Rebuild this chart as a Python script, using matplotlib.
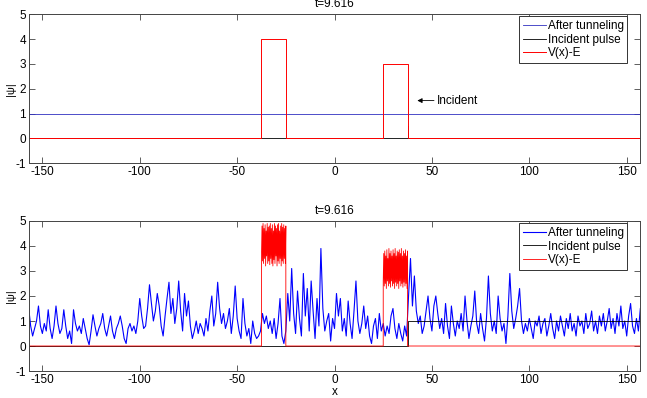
import numpy as np
import matplotlib
matplotlib.use("Agg")
import matplotlib.pyplot as plt

plt.rcParams['font.family'] = ['Liberation Sans', 'DejaVu Sans']
plt.rcParams['axes.unicode_minus'] = False

# --- data ---
title_text = "t=9.616"
x_lim = [-157, 157]
y_lim = [-1, 5]
x_ticks = [-150, -100, -50, 0, 50, 100, 150]
y_ticks = [-1, 0, 1, 2, 3, 4, 5]

# barrier positions and heights (V(x)-E)
barrier1 = [-37.5, -25.0]
barrier2 = [25.0, 37.5]
barrier_heights = [4, 3]

# upper panel: flat |psi| and incident marker
psi_flat = 1.0
incident_top_x = [-157, 37.5, 37.5, 37.9, 37.9, 157]
incident_top_y = [0, 0, 0.5, 0.5, 0, 0]

# lower panel: incident pulse
incident_bot_x = [-157, 37.5, 37.5, 157]
incident_bot_y = [0, 0, 1, 1]

# lower panel |psi| after tunneling, one value per unit of x from -157 to 157
psi_after = [
    1.5, 0.8, 0.4, 0.7, 1.0, 1.6, 0.8, 0.5,            # -157..-150
    0.9, 0.6, 1.45, 0.7, 0.3, 0.8, 1.6, 0.9, 0.5, 0.7,  # -149..-140
    1.45, 0.8, 0.3, 0.6, 0.1, 1.45, 0.9, 0.6, 0.8, 0.5,
    1.1, 0.7, 0.3, 0.05, 0.6, 1.25, 0.8, 0.4, 0.7, 0.9,
    1.3, 0.7, 0.4, 0.8, 1.2, 0.6, 0.3, 0.7, 0.9, 1.2,
    0.8, 0.3, 0.1, 0.7, 0.9, 0.6, 0.8, 0.5, 1.0, 1.9,
    1.2, 0.7, 0.8, 1.5, 2.45, 1.7, 1.0, 1.4, 2.1, 1.6,
    0.8, 0.4, 1.2, 1.9, 2.55, 1.3, 1.9, 0.9, 1.5, 2.6,
    1.4, 0.6, 2.1, 1.2, 1.8, 0.8, 0.3, 0.6, 1.0, 0.5,
    0.9, 0.7, 0.4, 1.1, 0.6, 1.4, 2.0, 0.8, 1.3, 2.55,
    1.5, 0.9, 1.3, 0.7, 1.0, 1.5, 0.5, 1.2, 2.4, 1.1,
    0.6, 0.3, 1.9, 0.9, 0.4, 0.7, 0.1, 1.0, 0.5, 0.3,
    0.4, 0.6, 1.3, 0.9, 1.2, 0.7, 1.0, 0.5, 1.1, 0.3,
    0.9, 1.9, 0.4, 0.1, 0.6, 2.1, 1.0, 3.1, 1.3, 0.5,
    2.2, 1.1, 0.4, 2.9, 1.2, 2.3, 0.6, 2.6, 1.4, 0.3,
    1.9, 0.8, 3.9, 1.5, 0.6, 1.0, 1.3, 0.2, 1.1, 0.7,   # -9..0
    2.1, 1.2, 1.9, 0.6, 1.1, 0.4, 1.8, 0.9, 0.3, 1.4,   # 1..10
    2.6, 1.0, 0.5, 0.9, 1.6, 0.7, 1.2, 0.4, 0.1, 0.8,
    1.1, 0.3, 1.3, 0.6, 0.9, 0.4, 0.8, 0.5, 1.2, 1.5,
    0.7, 0.3, 0.9, 0.5, 0.2, 0.8, 0.4, 2.0, 3.5, 1.6,
    2.8, 1.4, 0.9, 1.2, 0.5, 0.8, 1.4, 2.0, 1.1, 0.6,
    1.6, 2.0, 1.3, 0.7, 1.1, 0.5, 1.7, 0.8, 0.3, 1.6,
    0.9, 0.4, 1.0, 0.7, 1.3, 0.6, 2.0, 1.0, 0.3, 0.8,
    1.2, 2.2, 0.9, 0.5, 1.3, 0.7, 0.2, 1.1, 2.8, 1.3,
    0.6, 1.0, 0.5, 2.0, 1.1, 0.6, 0.9, 0.1, 1.2, 2.9,
    1.4, 0.7, 1.1, 1.6, 2.3, 1.0, 0.5, 0.9, 0.6, 1.1,
    0.7, 0.3, 1.0, 0.8, 1.2, 0.5, 0.9, 1.1, 0.4, 0.8,
    1.3, 0.7, 0.3, 1.0, 0.6, 1.2, 0.8, 0.4, 1.1, 0.7,
    1.3, 0.6, 0.9, 0.4, 1.2, 0.8, 1.0, 0.5, 1.3, 0.7,
    0.9, 1.4, 0.6, 1.0, 0.5, 1.2, 0.8, 1.3, 0.6, 1.0,
    1.5, 0.7, 1.1, 0.5, 1.3, 0.8, 1.6, 0.7, 1.0, 0.4,   # 141..150
    1.2, 1.7, 0.8, 0.5, 1.1, 0.6, 1.5,                  # 151..157
]

# noisy V(x)-E on top of the barriers in the lower panel
v_noise1 = [3.6, 4.8, 3.4, 4.9, 3.3, 4.7, 3.5, 4.85, 3.2, 4.6, 3.6, 4.9,
            3.3, 4.75, 3.4, 4.8, 3.25, 4.9, 3.5, 4.7, 3.3, 4.85, 3.2, 4.6,
            3.45, 4.9, 3.3, 4.8, 3.6, 4.7, 3.2, 4.85, 3.4, 4.9, 3.3, 4.6,
            3.5, 4.8, 3.2, 4.9, 3.4, 4.75, 3.3, 4.85, 3.5, 4.7, 3.3, 4.8]
v_noise2 = [2.6, 3.7, 2.4, 3.8, 2.5, 3.6, 2.3, 3.85, 2.6, 3.5, 2.4, 3.9,
            2.5, 3.7, 2.35, 3.8, 2.6, 3.6, 2.4, 3.85, 2.5, 3.7, 2.3, 3.9,
            2.55, 3.6, 2.4, 3.8, 2.5, 3.75, 2.3, 3.85, 2.6, 3.7, 2.4, 3.9,
            2.5, 3.6, 2.35, 3.8, 2.55, 3.7, 2.4, 3.85, 2.5, 3.6, 2.3, 3.8]

labels = ['After tunneling', 'Incident pulse', 'V(x)-E']


def barrier_curve(tops1, tops2):
    """step-shaped V(x)-E, barrier tops given as lists"""
    xs = [x_lim[0], barrier1[0]]
    ys = [0, 0]
    b1 = np.linspace(barrier1[0], barrier1[1], len(tops1))
    xs += list(b1) + [barrier1[1], barrier2[0]]
    ys += list(tops1) + [0, 0]
    b2 = np.linspace(barrier2[0], barrier2[1], len(tops2))
    xs += list(b2) + [barrier2[1], x_lim[1]]
    ys += list(tops2) + [0, 0]
    return xs, ys


def style_axes(ax):
    ax.set_xlim(x_lim)
    ax.set_ylim(y_lim)
    ax.set_xticks(x_ticks)
    ax.set_yticks(y_ticks)
    ax.tick_params(direction='in', top=True, right=True, length=4,
                   width=0.6, labelsize=8.5, color='#444444', pad=2)
    for sp in ax.spines.values():
        sp.set_color('#444444')
        sp.set_linewidth(0.7)
    ax.set_title(title_text, fontsize=8.5, pad=5)
    ax.set_ylabel('|ψ|', fontsize=8)
    ax.yaxis.set_label_coords(-0.021, 0.5)
    ax.legend(labels, loc='upper right', bbox_to_anchor=(0.979, 0.985),
              fontsize=8.5, frameon=True, fancybox=False, edgecolor='#333333',
              framealpha=1, handlelength=2.0, handletextpad=0.15,
              labelspacing=0.15, borderpad=0.3, borderaxespad=0)
    ax.get_legend().get_frame().set_linewidth(0.7)


fig = plt.figure(figsize=(6.47, 3.98), dpi=100)
ax1 = fig.add_axes([0.0444, 0.590, 0.9453, 0.3744])
ax2 = fig.add_axes([0.0444, 0.0678, 0.9453, 0.377])

# upper panel
ax1.plot(x_lim, [psi_flat, psi_flat], color='#3030c0', lw=0.6)
ax1.plot(incident_top_x, incident_top_y, color='black', lw=0.6)
top1 = [barrier_heights[0]] * 2
top2 = [barrier_heights[1]] * 2
vx, vy = barrier_curve(top1, top2)
ax1.plot(vx, vy, color='#ff0000', lw=0.7)
ax1.annotate('Incident', xy=(42.5, 1.52), xytext=(52.5, 1.52),
             fontsize=8.5, ha='left', va='center',
             arrowprops=dict(arrowstyle='-|>', lw=0.6, color='black',
                             mutation_scale=7, shrinkA=0, shrinkB=0))
style_axes(ax1)

# lower panel
xs = np.linspace(x_lim[0], x_lim[1], len(psi_after))
ax2.plot(xs, psi_after, color='#0000ff', lw=0.8)
ax2.plot(incident_bot_x, incident_bot_y, color='black', lw=0.6)
vx, vy = barrier_curve(v_noise1, v_noise2)
ax2.plot(vx, vy, color='#ff0000', lw=0.6)
style_axes(ax2)
ax2.set_xlabel('x', fontsize=8.5, labelpad=0)

fig.savefig('out.png', dpi=100)
